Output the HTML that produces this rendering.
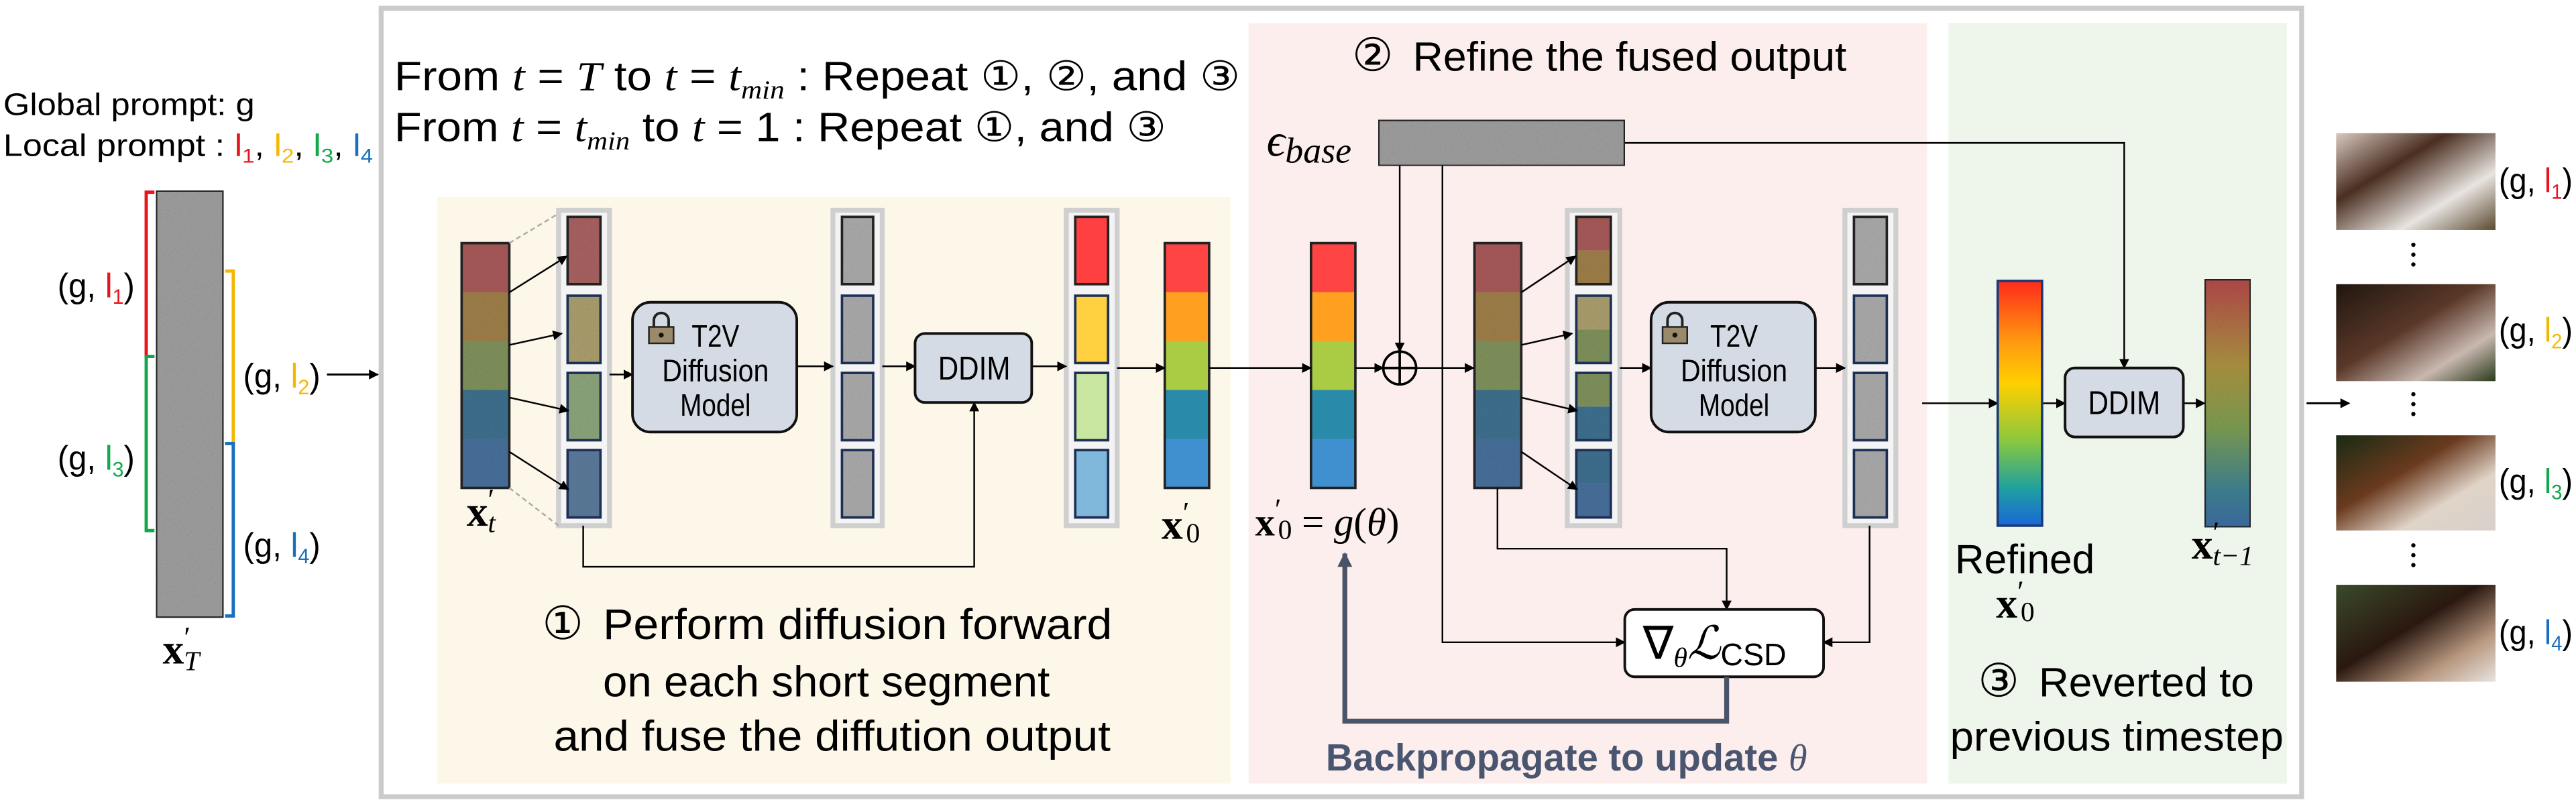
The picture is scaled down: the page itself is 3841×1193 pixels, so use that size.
<!DOCTYPE html>
<html><head><meta charset="utf-8">
<style>
html,body{margin:0;padding:0;background:#fff;}
svg{display:block;}
.n{font-family:"Liberation Sans Narrow","Liberation Sans",sans-serif;}
.m{font-family:"Liberation Serif",serif;}
</style></head>
<body>
<svg width="3841" height="1193" viewBox="0 0 1568 487" xmlns="http://www.w3.org/2000/svg">
<defs>
<marker id="ah" viewBox="0 0 10 10" refX="9" refY="5" markerWidth="6" markerHeight="6" orient="auto-start-reverse" markerUnits="userSpaceOnUse"><path d="M0,0 L10,5 L0,10 z" fill="#000"/></marker>
<marker id="ahb" viewBox="0 0 10 10" refX="9" refY="5" markerWidth="9" markerHeight="9" orient="auto" markerUnits="userSpaceOnUse"><path d="M0,0 L10,5 L0,10 z" fill="#4a5468"/></marker>
<filter id="noise" x="0" y="0" width="100%" height="100%"><feTurbulence type="fractalNoise" baseFrequency="0.9" numOctaves="2" result="t"/><feColorMatrix type="saturate" values="0" in="t" result="g"/><feComponentTransfer in="g" result="g2"><feFuncA type="linear" slope="0.25"/></feComponentTransfer><feComposite in="g2" in2="SourceGraphic" operator="in" result="n2"/><feBlend in="SourceGraphic" in2="n2" mode="multiply"/></filter>
<linearGradient id="refined" x1="0" y1="0" x2="0" y2="1"><stop offset="0" stop-color="#ff2a1a"/><stop offset="0.25" stop-color="#ff9a10"/><stop offset="0.42" stop-color="#ffd000"/><stop offset="0.65" stop-color="#8cc83c"/><stop offset="0.85" stop-color="#1ea0a0"/><stop offset="1" stop-color="#1a66d8"/></linearGradient>
<linearGradient id="xt1" x1="0" y1="0" x2="0" y2="1"><stop offset="0" stop-color="#b04848"/><stop offset="0.35" stop-color="#a89040"/><stop offset="0.6" stop-color="#7a9a50"/><stop offset="0.85" stop-color="#3e7f8e"/><stop offset="1" stop-color="#3a6aa0"/></linearGradient>
<linearGradient id="img1" x1="0" y1="0" x2="1" y2="1"><stop offset="0" stop-color="#d8c8c0"/><stop offset="0.35" stop-color="#4a2e20"/><stop offset="0.7" stop-color="#e8e4e0"/><stop offset="1" stop-color="#5a4a30"/></linearGradient>
<linearGradient id="img2" x1="0" y1="0" x2="1" y2="1"><stop offset="0" stop-color="#201610"/><stop offset="0.45" stop-color="#5a3828"/><stop offset="0.75" stop-color="#c8b8b0"/><stop offset="1" stop-color="#2a3a1a"/></linearGradient>
<linearGradient id="img3" x1="0" y1="0" x2="1" y2="1"><stop offset="0" stop-color="#1a2a14"/><stop offset="0.4" stop-color="#6a3a1e"/><stop offset="0.7" stop-color="#e0d4c8"/><stop offset="1" stop-color="#d8d0cc"/></linearGradient>
<linearGradient id="img4" x1="0" y1="0" x2="1" y2="1"><stop offset="0" stop-color="#3a4a2a"/><stop offset="0.45" stop-color="#2a1810"/><stop offset="0.75" stop-color="#b89880"/><stop offset="1" stop-color="#e8e4e0"/></linearGradient>
</defs>

<rect x="232" y="5" width="1169" height="480" fill="none" stroke="#cbcbcb" stroke-width="3"/>
<rect x="266" y="120" width="483" height="357" fill="#fdf7e9"/>
<rect x="760" y="14" width="413" height="463" fill="#fdeeee"/>
<rect x="1186" y="14" width="206" height="463" fill="#eef5ea"/>

<text class="n" x="2" y="70" font-size="19" textLength="153" lengthAdjust="spacingAndGlyphs">Global prompt: g</text>
<text class="n" x="2" y="95" font-size="19" textLength="225" lengthAdjust="spacingAndGlyphs">Local prompt : <tspan fill="#e8141c">l<tspan font-size="12" dy="4">1</tspan></tspan><tspan dy="-4">, </tspan><tspan fill="#f5b800">l<tspan font-size="12" dy="4">2</tspan></tspan><tspan dy="-4">, </tspan><tspan fill="#12a84a">l<tspan font-size="12" dy="4">3</tspan></tspan><tspan dy="-4">, </tspan><tspan fill="#1a6fc0">l<tspan font-size="12" dy="4">4</tspan></tspan></text>

<rect x="95" y="116" width="41" height="260" fill="#9c9c9c" stroke="#222" stroke-width="1.5" filter="url(#noise)"/>
<path d="M94,117 H89 V217 H94" fill="none" stroke="#e8141c" stroke-width="2"/>
<path d="M94,217 H89 V323 H94" fill="none" stroke="#12a84a" stroke-width="2"/>
<path d="M137,165 H142 V270 H137" fill="none" stroke="#f5b800" stroke-width="2"/>
<path d="M137,270 H142 V375 H137" fill="none" stroke="#1a6fc0" stroke-width="2"/>
<text class="n" x="35" y="181" font-size="21" textLength="47" lengthAdjust="spacingAndGlyphs">(g, <tspan fill="#e8141c">l<tspan font-size="13" dy="4">1</tspan></tspan><tspan dy="-4">)</tspan></text>
<text class="n" x="35" y="286" font-size="21" textLength="47" lengthAdjust="spacingAndGlyphs">(g, <tspan fill="#12a84a">l<tspan font-size="13" dy="4">3</tspan></tspan><tspan dy="-4">)</tspan></text>
<text class="n" x="148" y="236" font-size="21" textLength="47" lengthAdjust="spacingAndGlyphs">(g, <tspan fill="#f5b800">l<tspan font-size="13" dy="4">2</tspan></tspan><tspan dy="-4">)</tspan></text>
<text class="n" x="148" y="339" font-size="21" textLength="47" lengthAdjust="spacingAndGlyphs">(g, <tspan fill="#1a6fc0">l<tspan font-size="13" dy="4">4</tspan></tspan><tspan dy="-4">)</tspan></text>
<text class="m" x="99" y="404" font-size="26" font-weight="bold">x<tspan font-weight="normal" font-size="18" dy="-10">′</tspan><tspan font-weight="normal" font-style="italic" font-size="17" dy="14" dx="-4">T</tspan></text>
<line x1="199" y1="228" x2="230" y2="228" stroke="#000" stroke-width="1.2" marker-end="url(#ah)"/>

<text class="n" x="240" y="55" font-size="25" textLength="515" lengthAdjust="spacingAndGlyphs">From <tspan class="m" font-style="italic">t</tspan> = <tspan class="m" font-style="italic">T</tspan> to <tspan class="m" font-style="italic">t</tspan> = <tspan class="m" font-style="italic">t<tspan font-size="16" dy="5">min</tspan></tspan><tspan dy="-5"> : Repeat ①, ②, and ③</tspan></text>
<text class="n" x="240" y="86" font-size="25" textLength="470" lengthAdjust="spacingAndGlyphs">From <tspan class="m" font-style="italic">t</tspan> = <tspan class="m" font-style="italic">t<tspan font-size="16" dy="5">min</tspan></tspan><tspan dy="-5"> to </tspan><tspan class="m" font-style="italic">t</tspan> = 1 : Repeat ①, and ③</text>

<g id="dyn"></g>

<rect x="385" y="184" width="100" height="79" rx="11" fill="#d5dbe5" stroke="#111" stroke-width="1.6"/>
<rect x="1005" y="184" width="100" height="79" rx="11" fill="#d5dbe5" stroke="#111" stroke-width="1.6"/>
<rect x="557" y="203" width="71" height="42" rx="6" fill="#d5dbe5" stroke="#111" stroke-width="1.6"/>
<rect x="1257" y="224" width="72" height="42" rx="6" fill="#d5dbe5" stroke="#111" stroke-width="1.6"/>
<text class="n" x="571" y="231" font-size="20" textLength="44" lengthAdjust="spacingAndGlyphs">DDIM</text>
<text class="n" x="1271" y="252" font-size="20" textLength="44" lengthAdjust="spacingAndGlyphs">DDIM</text>
<g class="n" font-size="19">
<text x="421" y="211" textLength="29" lengthAdjust="spacingAndGlyphs">T2V</text><text x="403" y="232" textLength="65" lengthAdjust="spacingAndGlyphs">Diffusion</text><text x="414" y="253" textLength="43" lengthAdjust="spacingAndGlyphs">Model</text></g>
<g class="n" font-size="19">
<text x="1041" y="211" textLength="29" lengthAdjust="spacingAndGlyphs">T2V</text><text x="1023" y="232" textLength="65" lengthAdjust="spacingAndGlyphs">Diffusion</text><text x="1034" y="253" textLength="43" lengthAdjust="spacingAndGlyphs">Model</text></g>
<g><path d="M398,199 v-4 a4.5,4.5 0 0 1 9,0 v4" fill="none" stroke="#222" stroke-width="1.6"/><rect x="395" y="199" width="15" height="10" fill="#9a8a6a" stroke="#222" stroke-width="1"/><circle cx="402.5" cy="204" r="1.5" fill="#111"/></g>
<g><path d="M1015,199 v-4 a4.5,4.5 0 0 1 9,0 v4" fill="none" stroke="#222" stroke-width="1.6"/><rect x="1012" y="199" width="15" height="10" fill="#9a8a6a" stroke="#222" stroke-width="1"/><circle cx="1019.5" cy="204" r="1.5" fill="#111"/></g>

<text class="m" x="707" y="328" font-size="26" font-weight="bold">x<tspan font-weight="normal" font-size="18" dy="-10">′</tspan><tspan font-weight="normal" font-size="17" dy="12" dx="-2">0</tspan></text>
<text class="m" x="284" y="320" font-size="26" font-weight="bold">x<tspan font-weight="normal" font-size="18" dy="-10">′</tspan><tspan font-weight="normal" font-style="italic" font-size="17" dy="14" dx="-4">t</tspan></text>

<g class="n" font-size="26">
<text x="330" y="389" font-family="DejaVu Sans" font-size="28">①</text>
<text x="367" y="389" textLength="310" lengthAdjust="spacingAndGlyphs">Perform diffusion forward</text>
<text x="367" y="424" textLength="272" lengthAdjust="spacingAndGlyphs">on each short segment</text>
<text x="337" y="457" textLength="339" lengthAdjust="spacingAndGlyphs">and fuse the diffution output</text></g>

<text class="n" font-size="25"><tspan x="823" y="43" font-family="DejaVu Sans" font-size="28">②</tspan><tspan x="860" y="43" textLength="264" lengthAdjust="spacingAndGlyphs">Refine the fused output</tspan></text>
<text class="m" x="771" y="95" font-size="28" font-style="italic">ϵ<tspan font-size="22" dy="4">base</tspan></text>
<rect x="839" y="73" width="150" height="28" fill="#9c9c9c" stroke="#222" stroke-width="1.5" filter="url(#noise)"/>
<text class="m" x="764" y="326" font-size="24"><tspan font-weight="bold">x</tspan><tspan font-size="18" dy="-10">′</tspan><tspan font-size="17" dy="12" dx="-2">0</tspan><tspan dy="-2"> = </tspan><tspan font-style="italic">g</tspan>(<tspan font-style="italic">θ</tspan>)</text>
<g><circle cx="852" cy="224" r="10" fill="none" stroke="#000" stroke-width="1.5"/><line x1="842" y1="224" x2="862" y2="224" stroke="#000" stroke-width="1.5"/><line x1="852" y1="214" x2="852" y2="234" stroke="#000" stroke-width="1.5"/></g>
<rect x="989" y="371" width="121" height="41" rx="6" fill="#fff" stroke="#111" stroke-width="1.6"/>
<text class="m" x="1000" y="401" font-size="28">∇<tspan font-style="italic" font-size="17" dy="5">θ</tspan><tspan font-style="italic" font-family="DejaVu Serif" font-size="28" dy="-5">ℒ</tspan><tspan font-size="19" dy="4" font-family="Liberation Sans Narrow, Liberation Sans, sans-serif">CSD</tspan></text>
<path d="M1051,412 V439 H818.6 V337" fill="none" stroke="#4a5468" stroke-width="3" marker-end="url(#ahb)"/>
<text class="n" x="807" y="469" font-size="23" font-weight="bold" fill="#4a5670" textLength="293" lengthAdjust="spacingAndGlyphs">Backpropagate to update <tspan class="m" font-style="italic" font-weight="normal">θ</tspan></text>

<rect x="1216" y="171" width="27" height="149" fill="url(#refined)" stroke="#1a3a7a" stroke-width="1.5"/>
<rect x="1342" y="170" width="28" height="151" fill="url(#xt1)" stroke="#222" stroke-width="1.5" filter="url(#noise)"/>
<text class="n" x="1190" y="349" font-size="25" textLength="85" lengthAdjust="spacingAndGlyphs">Refined</text>
<text class="m" x="1215" y="376" font-size="26" font-weight="bold">x<tspan font-weight="normal" font-size="18" dy="-10">′</tspan><tspan font-weight="normal" font-size="17" dy="12" dx="-2">0</tspan></text>
<text class="m" x="1334" y="340" font-size="26" font-weight="bold">x<tspan font-weight="normal" font-size="18" dy="-10">′</tspan><tspan font-weight="normal" font-style="italic" font-size="17" dy="14" dx="-4">t−1</tspan></text>
<g class="n" font-size="25">
<text x="1204" y="424" font-family="DejaVu Sans" font-size="28">③</text>
<text x="1241" y="424" textLength="131" lengthAdjust="spacingAndGlyphs">Reverted to</text>
<text x="1187" y="457" textLength="203" lengthAdjust="spacingAndGlyphs">previous timestep</text></g>

<line x1="1404" y1="245.5" x2="1430" y2="245.5" stroke="#000" stroke-width="1.2" marker-end="url(#ah)"/>
<rect x="1422" y="81" width="97" height="59" fill="url(#img1)"/>
<rect x="1422" y="173" width="97" height="59" fill="url(#img2)"/>
<rect x="1422" y="265" width="97" height="58" fill="url(#img3)"/>
<rect x="1422" y="356" width="97" height="59" fill="url(#img4)"/>
<g fill="#000">
<circle cx="1469" cy="149" r="1.3"/><circle cx="1469" cy="155" r="1.3"/><circle cx="1469" cy="161" r="1.3"/>
<circle cx="1469" cy="240" r="1.3"/><circle cx="1469" cy="246" r="1.3"/><circle cx="1469" cy="252" r="1.3"/>
<circle cx="1469" cy="332" r="1.3"/><circle cx="1469" cy="338" r="1.3"/><circle cx="1469" cy="344" r="1.3"/></g>
<text class="n" x="1521" y="117" font-size="21" textLength="45" lengthAdjust="spacingAndGlyphs">(g, <tspan fill="#e8141c">l<tspan font-size="13" dy="4">1</tspan></tspan><tspan dy="-4">)</tspan></text>
<text class="n" x="1521" y="208" font-size="21" textLength="45" lengthAdjust="spacingAndGlyphs">(g, <tspan fill="#f5b800">l<tspan font-size="13" dy="4">2</tspan></tspan><tspan dy="-4">)</tspan></text>
<text class="n" x="1521" y="300" font-size="21" textLength="45" lengthAdjust="spacingAndGlyphs">(g, <tspan fill="#12a84a">l<tspan font-size="13" dy="4">3</tspan></tspan><tspan dy="-4">)</tspan></text>
<text class="n" x="1521" y="392" font-size="21" textLength="45" lengthAdjust="spacingAndGlyphs">(g, <tspan fill="#1a6fc0">l<tspan font-size="13" dy="4">4</tspan></tspan><tspan dy="-4">)</tspan></text>
</svg>

<script>
const segMuted = ["#a55858","#9c7d48","#7d8f5a","#3d6e8c","#466e98"];
const segBright = ["#ff4444","#ffa020","#aacc44","#2a8aaa","#4090d0"];
const crop1 = ["#a66060","#a89c6c","#8aa278","#5a7898"];
const fused = ["#ff4040","#ffd040","#c8e6a0","#80b8dc"];
const cropTop = ["#a55858","#a89c6c","#7d8f5a","#3d6e8c"];
const cropBot = ["#9c7d48","#7d8f5a","#3d6e8c","#466e98"];
const NS="http://www.w3.org/2000/svg";
const g=document.getElementById('dyn');
function mk(tag,attrs){const e=document.createElementNS(NS,tag);for(const k in attrs)e.setAttribute(k,attrs[k]);g.appendChild(e);return e;}
function segBar(x,w,cols,name,noise){
  const y0=148,h=149;
  cols.forEach((c,i)=>{const r=mk('rect',{x:x,y:y0+i*h/cols.length,width:w,height:h/cols.length+0.3,fill:c});if(noise)r.setAttribute('filter','url(#noise)');
    
    });
  const o=mk('rect',{x:x,y:y0,width:w,height:h,fill:'none',stroke:'#222','stroke-width':1.5});
  
  
}
function container(x,w,fillTop,fillBot,name,noise){
  const c=mk('rect',{x:x,y:128,width:w,height:192,fill:'#f4f4f4',stroke:'#cfcfcf','stroke-width':3});
  
  
  const tops=[132,180,227,274];
  tops.forEach((t,i)=>{
    const bx=x+5.5,bw=w-11,bh=41;
    if(fillBot){
      const a=mk('rect',{x:bx,y:t,width:bw,height:bh/2,fill:fillTop[i]});a.setAttribute('filter','url(#noise)');
      const b=mk('rect',{x:bx,y:t+bh/2,width:bw,height:bh/2,fill:fillBot[i]});b.setAttribute('filter','url(#noise)');
    }else{
      const a=mk('rect',{x:bx,y:t,width:bw,height:bh,fill:fillTop[i]});if(noise)a.setAttribute('filter','url(#noise)');
    }
    const o=mk('rect',{x:bx,y:t,width:bw,height:bh,fill:'none',stroke:i==0?'#222':'#1e2f55','stroke-width':1.5});
    
    
  });
}
function arrow(pts,name){
  const p=mk('polyline',{points:pts,fill:'none',stroke:'#000','stroke-width':1,'marker-end':'url(#ah)'});
  
  
}
segBar(281,29,segMuted,'xt-bar',true);
container(340,31,crop1,null,'crop-container-1',true);
container(507,30,["#a8a8a8","#a8a8a8","#a8a8a8","#a8a8a8"],null,'denoised-container-1',true);
container(649,31,fused,null,'fused-container',false);
segBar(709,27,segBright,'x0-bar',false);
mk('line',{x1:310,y1:148,x2:340,y2:130,stroke:'#aaa','stroke-dasharray':'3,2','stroke-width':1});
mk('line',{x1:310,y1:297,x2:340,y2:320,stroke:'#aaa','stroke-dasharray':'3,2','stroke-width':1});
arrow("310,178 345,156",'split-arrow');arrow("310,210 342,203",'split-arrow');arrow("310,242 346,250",'split-arrow');arrow("310,275 346,298",'split-arrow');
arrow("371,228 385,228",'to-t2v-arrow');arrow("485,223 507,223",'t2v-out-arrow');arrow("537,223 557,223",'to-ddim-arrow');
arrow("628,223 649,223",'ddim-out-arrow');arrow("680,224 709,224",'to-x0-arrow');
arrow("355,320 355,345 593,345 593,245",'skip-to-ddim-arrow');
segBar(798,27,segBright,'x0-param-bar',false);
segBar(897.5,28.5,segMuted,'noisy-x0-bar',true);
container(954,32,cropTop,cropBot,'crop-container-2',true);
container(1123,31,["#a8a8a8","#a8a8a8","#a8a8a8","#a8a8a8"],null,'denoised-container-2',true);
arrow("736,224 798,224",'x0-to-stage2-arrow');arrow("825,224 842,224",'to-plus-arrow');arrow("862,224 897,224",'plus-out-arrow');
arrow("852,101 852,214",'eps-to-plus-arrow');
arrow("926,178 959,156",'split-arrow-2');arrow("926,210 957,203",'split-arrow-2');arrow("926,242 960,250",'split-arrow-2');arrow("926,275 960,298",'split-arrow-2');
arrow("986,224 1005,224",'to-t2v2-arrow');arrow("1105,224 1123,224",'t2v2-out-arrow');
arrow("878,101 878,391 989,391",'eps-to-loss-arrow');
arrow("911.5,297 911.5,334 1051,334 1051,371",'noisy-to-loss-arrow');
arrow("1138,320 1138,391 1110,391",'pred-to-loss-arrow');
arrow("989,87 1293,87 1293,224",'eps-to-ddim-arrow');
arrow("1170,245.5 1216,245.5",'to-refined-arrow');arrow("1243,245.5 1257,245.5",'refined-to-ddim-arrow');arrow("1329,245.5 1342,245.5",'ddim-to-xt1-arrow');
</script>
</body></html>
